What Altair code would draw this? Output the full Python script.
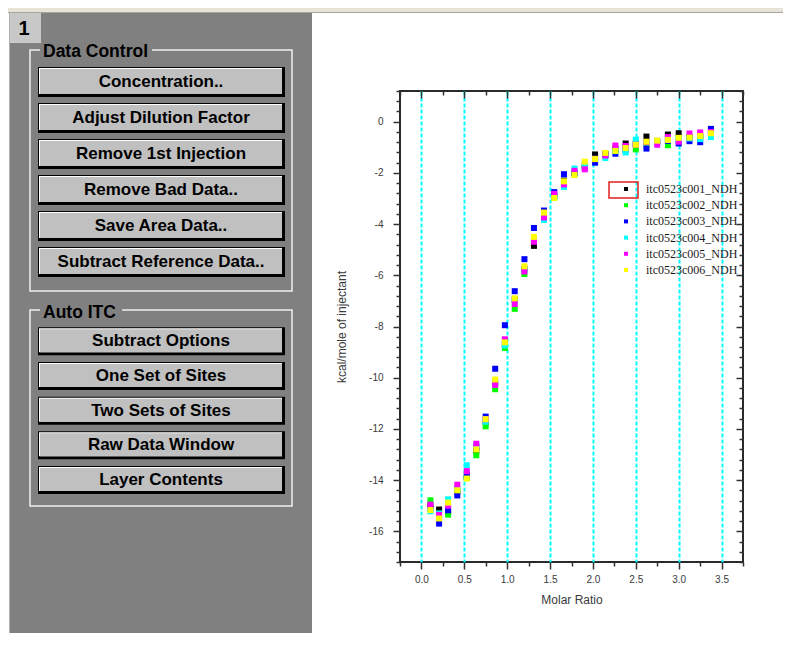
import altair as alt
import pandas as pd

# ---------------- data ----------------
series_names = ["itc0523c001_NDH", "itc0523c002_NDH", "itc0523c003_NDH",
                "itc0523c004_NDH", "itc0523c005_NDH", "itc0523c006_NDH"]
series_colors = ["#000000", "#00FF00", "#0000FF", "#00FFFF", "#FF00FF", "#FFFF00"]

molar_ratio = [0.105, 0.206, 0.311, 0.418, 0.529, 0.640, 0.749, 0.860, 0.973, 1.088,
               1.201, 1.312, 1.429, 1.549, 1.662, 1.785, 1.905, 2.025, 2.145, 2.262,
               2.381, 2.500, 2.624, 2.749, 2.874, 3.000, 3.126, 3.251, 3.376]

heat_c001 = [-15.00, -15.15, -15.25, -14.45, -13.90, -12.85, -11.75, -10.20, -8.70, -6.95,
             -5.75, -4.85, -3.65, -2.90, -2.30, -2.00, -1.70, -1.28, -1.25, -1.05,
             -0.85, -0.85, -0.58, -0.75, -0.50, -0.45, -0.60, -0.55, -0.45]
heat_c002 = [-14.79, -15.50, -15.35, -14.40, -13.90, -13.03, -11.90, -10.45, -8.84, -7.31,
             -5.95, -4.60, -3.60, -2.95, -2.35, -2.05, -1.75, -1.50, -1.30, -1.10,
             -1.05, -1.08, -0.92, -0.80, -0.92, -0.65, -0.60, -0.60, -0.50]
heat_c003 = [-15.12, -15.70, -15.18, -14.60, -13.78, -12.70, -11.52, -9.65, -7.95, -6.62,
             -5.37, -4.15, -3.47, -2.75, -2.05, -2.00, -1.80, -1.60, -1.30, -1.25,
             -1.10, -0.90, -1.05, -0.78, -0.75, -0.85, -0.76, -0.80, -0.28]
heat_c004 = [-15.22, -15.30, -14.75, -14.30, -13.42, -12.65, -11.72, -10.20, -8.74, -7.05,
             -5.80, -4.65, -3.84, -2.95, -2.55, -1.83, -1.70, -1.45, -1.42, -1.15,
             -1.20, -0.70, -0.80, -0.80, -0.70, -0.70, -0.65, -0.68, -0.60]
heat_c005 = [-14.96, -15.36, -15.00, -14.18, -13.65, -12.58, -11.62, -10.28, -8.50, -7.12,
             -5.85, -4.69, -3.74, -2.82, -2.45, -1.92, -1.86, -1.45, -1.32, -0.93,
             -0.95, -0.90, -0.80, -0.90, -0.60, -0.78, -0.46, -0.42, -0.40]
heat_c006 = [-15.17, -15.50, -14.88, -14.40, -13.94, -12.80, -11.62, -10.07, -8.62, -6.90,
             -5.65, -4.50, -3.55, -2.98, -2.33, -2.08, -1.56, -1.46, -1.22, -1.14,
             -1.03, -0.90, -0.78, -0.74, -0.71, -0.63, -0.62, -0.56, -0.45]
heat_series = [heat_c001, heat_c002, heat_c003, heat_c004, heat_c005, heat_c006]

x_major = [0.0, 0.5, 1.0, 1.5, 2.0, 2.5, 3.0, 3.5]
x_minor = [-0.25, 0.25, 0.75, 1.25, 1.75, 2.25, 2.75, 3.25, 3.75]
y_major = [-16, -14, -12, -10, -8, -6, -4, -2, 0]
y_minor = [round(-17.2 + 0.4 * i, 1) for i in range(47) if (i % 5) != 3]

x_domain = [-0.25, 3.75]
y_domain = [-17.2, 1.2]

panel_buttons_data = ["Concentration..", "Adjust Dilution Factor", "Remove 1st Injection",
                      "Remove Bad Data..", "Save Area Data..", "Subtract Reference Data.."]
panel_buttons_auto = ["Subtract Options", "One Set of Sites", "Two Sets of Sites",
                      "Raw Data Window", "Layer Contents"]

rows = []
for k, (name, vals) in enumerate(zip(series_names, heat_series)):
    for r, v in zip(molar_ratio, vals):
        rows.append({"series": name, "k": k, "ratio": r, "heat": v})
df = pd.DataFrame(rows)
corners = pd.DataFrame({"ratio": x_domain, "heat": y_domain})
one = pd.DataFrame({"a": [0]})

W, H = 343, 471
FONT = "Liberation Sans"

xs = alt.Scale(domain=x_domain, nice=False, zero=False)
ys = alt.Scale(domain=y_domain, nice=False, zero=False)

def tick_axis(orient, values, size, offset=0):
    return alt.Axis(orient=orient, values=values, tickSize=size, offset=offset,
                    labels=False, title=None, domain=False, grid=False,
                    tickColor="#333333", tickWidth=1.5)

# axes layers
ax_minor_bl = alt.Chart(corners).mark_point(opacity=0).encode(
    x=alt.X("ratio:Q", scale=xs, axis=tick_axis("bottom", x_minor, 4)),
    y=alt.Y("heat:Q", scale=ys, axis=tick_axis("left", y_minor, 4)),
)
ax_major_tr = alt.Chart(corners).mark_point(opacity=0).encode(
    x=alt.X("ratio:Q", scale=xs, axis=tick_axis("top", x_major, 7, -7)),
    y=alt.Y("heat:Q", scale=ys, axis=tick_axis("right", y_major, 7, -7)),
)
ax_minor_tr = alt.Chart(corners).mark_point(opacity=0).encode(
    x=alt.X("ratio:Q", scale=xs, axis=tick_axis("top", x_minor, 4, -4)),
    y=alt.Y("heat:Q", scale=ys, axis=tick_axis("right", y_minor, 4, -4)),
)

points = alt.Chart(df).mark_square(size=36, opacity=1, filled=True).encode(
    x=alt.X("ratio:Q", scale=xs, axis=alt.Axis(
        orient="bottom", values=x_major, labelExpr="format(datum.value, '.1f')",
        tickSize=7, tickWidth=1.5, tickColor="#333333", labelPadding=5,
        labelFontSize=10, labelColor="#3a3a3a", labelFont=FONT,
        grid=True, gridColor="#00FFFF", gridDash=[4, 2], gridWidth=2,
        domain=False, title="Molar Ratio", titleFont=FONT, titleFontSize=12,
        titleFontWeight="normal", titleColor="#3a3a3a", titlePadding=10)),
    y=alt.Y("heat:Q", scale=ys, axis=alt.Axis(
        orient="left", values=y_major, labelExpr="'' + datum.value",
        tickSize=7, tickWidth=1.5, tickColor="#333333", labelPadding=10,
        labelFontSize=10, labelColor="#3a3a3a", labelFont=FONT,
        grid=False, domain=False, title="kcal/mole of injectant", titleFont=FONT,
        titleFontSize=12, titleFontWeight="normal", titleColor="#3a3a3a", titlePadding=20)),
    color=alt.Color("series:N", scale=alt.Scale(domain=series_names, range=series_colors),
                    legend=alt.Legend(orient="none", legendX=220, legendY=92, title=None,
                                      symbolType="square", symbolSize=16, symbolStrokeWidth=0,
                                      labelFont="Liberation Serif", labelFontSize=12,
                                      labelColor="#1a1a1a", labelOffset=14, rowPadding=4.2,
                                      padding=0, labelLimit=300)),
    order=alt.Order("k:Q"),
)

red_box = alt.Chart(one).mark_rect(fill=None, stroke="#E02020", strokeWidth=1.5).encode(
    x=alt.value(209), x2=alt.value(238), y=alt.value(91), y2=alt.value(107))

# ---------------- left tool panel ----------------
def rect(x, x2, y, y2, **kw):
    return alt.Chart(one).mark_rect(**kw).encode(
        x=alt.value(x), x2=alt.value(x2), y=alt.value(y), y2=alt.value(y2))

def label(txt, x, y, **kw):
    return alt.Chart(pd.DataFrame({"t": [txt]})).mark_text(**kw).encode(
        text="t:N", x=alt.value(x), y=alt.value(y))

chrome = [
    rect(-392, 383, -83, -78, fill="#E6E3D8"),
    rect(-392, 383, -79, -78, fill="#A8A59A"),
    rect(-390, -88, -78, 542, fill="#808080"),
    rect(-391, -390, -78, 542, fill="#B0B0B0"),
    rect(-390, -359, -78, -48, fill="#C8C8C8"),
    label("1", -376, -62, font=FONT, fontSize=20, fontWeight="bold", color="#000000"),
    rect(-370, -108, -41, 200, fill=None, stroke="#EEEEEE", strokeWidth=1.5),
    rect(-360, -248, -47, -34, fill="#808080"),
    label("Data Control", -357, -39.5, font=FONT, fontSize=17.5, fontWeight="bold",
          color="#000000", align="left"),
    rect(-370, -108, 219, 415, fill=None, stroke="#EEEEEE", strokeWidth=1.5),
    rect(-360, -278, 213, 226, fill="#808080"),
    label("Auto ITC", -357, 221.5, font=FONT, fontSize=17.5, fontWeight="bold",
          color="#000000", align="left"),
]

def button_group(labels, rng, pad, h):
    base = alt.Chart(pd.DataFrame({"label": labels})).encode(
        y=alt.Y("label:N", scale=alt.Scale(type="band", domain=labels, range=rng,
                                           paddingInner=pad, paddingOuter=0), axis=None))
    black = base.mark_bar(color="#000000", height=h).encode(x=alt.value(-362), x2=alt.value(-115))
    white = base.mark_bar(color="#FFFFFF", height=h - 4, yOffset=-1).encode(
        x=alt.value(-361), x2=alt.value(-118))
    face = base.mark_bar(color="#C0C0C0", height=h - 5, yOffset=-0.5).encode(
        x=alt.value(-360), x2=alt.value(-118))
    text = base.mark_text(font=FONT, fontSize=17, fontWeight="bold", color="#000000").encode(
        text="label:N", x=alt.value(-239))
    return [black, white, face, text]

buttons = (button_group(panel_buttons_data, [-24.3, 186.3], 0.153, 30)
           + button_group(panel_buttons_auto, [236.3, 403], 0.19, 28))

chart = alt.layer(
    *chrome, *buttons, ax_minor_bl, ax_major_tr, ax_minor_tr, points, red_box
).resolve_scale(x="independent", y="independent").properties(
    width=W, height=H,
    padding={"left": 392, "top": 83, "right": 40, "bottom": 71},
    autosize=alt.AutoSizeParams(type="none"),
).configure_view(stroke="#2a2a2a", strokeWidth=2)

chart.save("out.html", embed_options={"renderer": "svg", "actions": False})
